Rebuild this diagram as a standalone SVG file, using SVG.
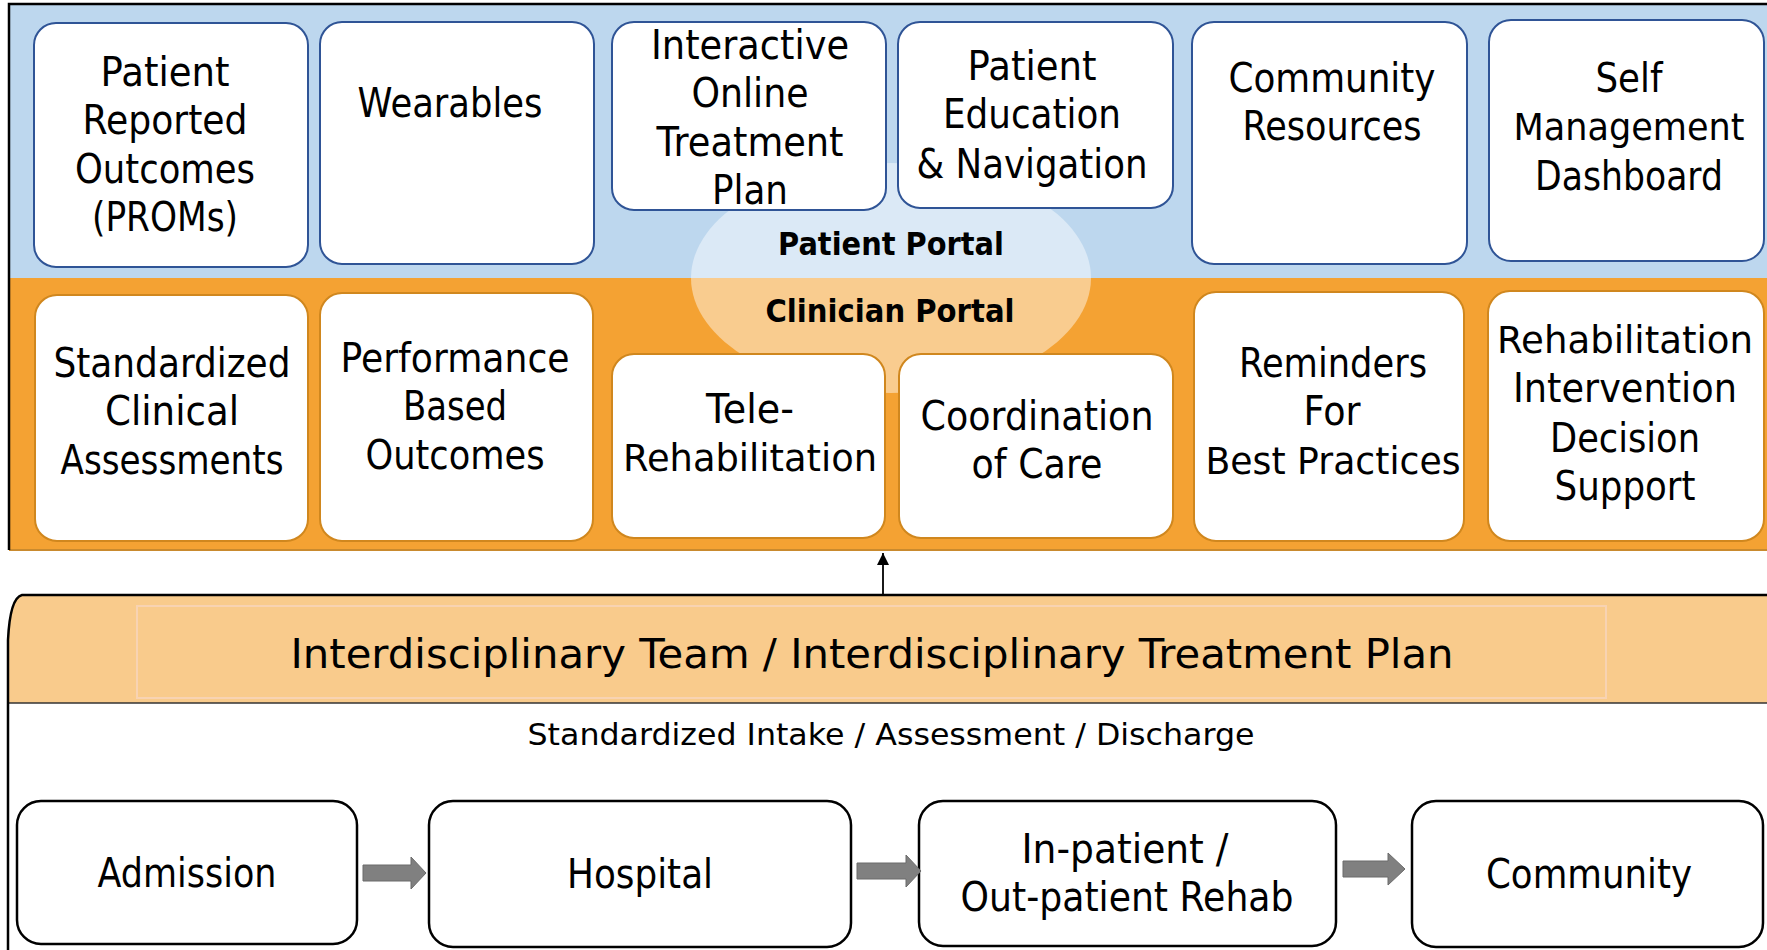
<svg xmlns="http://www.w3.org/2000/svg" width="1767" height="950" viewBox="0 0 1767 950">
<style>
.t{font-family:"DejaVu Sans","Liberation Sans",sans-serif;font-size:40px;fill:#000;text-anchor:middle}
.n{font-size:37px}
.b{font-family:"DejaVu Sans","Liberation Sans",sans-serif;font-size:32px;font-weight:bold;fill:#000;text-anchor:middle}
.pb{fill:#fff;stroke:#2F5496;stroke-width:2}
.cb{fill:#fff;stroke:#D0871E;stroke-width:2}
.fb{fill:#fff;stroke:#000;stroke-width:2.5}
.ga{fill:#808080;stroke:#6A6A6A;stroke-width:1}
</style>
<defs>
<marker id="ah" markerWidth="12" markerHeight="12" refX="10" refY="5" orient="auto" markerUnits="userSpaceOnUse" viewBox="0 0 10 10">
<path d="M0,0 L10,5 L0,10 Z" fill="#000"/>
</marker>
</defs>
<rect x="0" y="0" width="1767" height="950" fill="#fff"/>
<g id="portal-panel">
<rect x="9" y="4" width="1770" height="274" fill="#BDD7EE"/>
<rect x="9" y="278" width="1770" height="272" fill="#F4A233"/>
<line x1="9" y1="550" x2="1767" y2="550" stroke="#C98A2E" stroke-width="2"/>
<path d="M1767,4 H9 V550" fill="none" stroke="#000" stroke-width="2.5"/>
<ellipse cx="891" cy="278" rx="200" ry="115" fill="#fff" fill-opacity="0.45"/>
</g>
<g id="patient-portal-label"><text class="b" x="891" y="255" textLength="226" lengthAdjust="spacingAndGlyphs">Patient Portal</text></g>
<g id="clinician-portal-label"><text class="b" x="890" y="322" textLength="249" lengthAdjust="spacingAndGlyphs">Clinician Portal</text></g>

<g id="proms">
<rect class="pb" x="34" y="23" width="274" height="244" rx="22"/>
<text class="t" x="165" y="86" textLength="129" lengthAdjust="spacingAndGlyphs">Patient</text>
<text class="t" x="165" y="134" textLength="165" lengthAdjust="spacingAndGlyphs">Reported</text>
<text class="t" x="165" y="183" textLength="180" lengthAdjust="spacingAndGlyphs">Outcomes</text>
<text class="t" x="165" y="231" textLength="146" lengthAdjust="spacingAndGlyphs">(PROMs)</text>
</g>
<g id="wearables">
<rect class="pb" x="320" y="22" width="274" height="242" rx="22"/>
<text class="t" x="450" y="117" textLength="185" lengthAdjust="spacingAndGlyphs">Wearables</text>
</g>
<g id="interactive-plan">
<rect class="pb" x="612" y="22" width="274" height="188" rx="22"/>
<text class="t" x="750" y="59" textLength="198" lengthAdjust="spacingAndGlyphs">Interactive</text>
<text class="t" x="750" y="107" textLength="117" lengthAdjust="spacingAndGlyphs">Online</text>
<text class="t" x="750" y="156" textLength="187" lengthAdjust="spacingAndGlyphs">Treatment</text>
<text class="t" x="750" y="204" textLength="76" lengthAdjust="spacingAndGlyphs">Plan</text>
</g>
<g id="patient-education">
<rect class="pb" x="898" y="22" width="275" height="186" rx="22"/>
<text class="t" x="1032" y="80" textLength="129" lengthAdjust="spacingAndGlyphs">Patient</text>
<text class="t" x="1032" y="128" textLength="178" lengthAdjust="spacingAndGlyphs">Education</text>
<text class="t" x="1032" y="178" textLength="231" lengthAdjust="spacingAndGlyphs">&amp; Navigation</text>
</g>
<g id="community-resources">
<rect class="pb" x="1192" y="22" width="275" height="242" rx="22"/>
<text class="t" x="1332" y="92" textLength="207" lengthAdjust="spacingAndGlyphs">Community</text>
<text class="t" x="1332" y="140" textLength="179" lengthAdjust="spacingAndGlyphs">Resources</text>
</g>
<g id="self-management">
<rect class="pb" x="1489" y="20" width="275" height="241" rx="22"/>
<text class="t" x="1629" y="92" textLength="67" lengthAdjust="spacingAndGlyphs">Self</text>
<text class="t n" x="1629" y="140" textLength="231" lengthAdjust="spacingAndGlyphs">Management</text>
<text class="t" x="1629" y="190" textLength="188" lengthAdjust="spacingAndGlyphs">Dashboard</text>
</g>

<g id="standardized-clinical">
<rect class="cb" x="35" y="295" width="273" height="246" rx="22"/>
<text class="t" x="172" y="377" textLength="237" lengthAdjust="spacingAndGlyphs">Standardized</text>
<text class="t" x="172" y="425" textLength="134" lengthAdjust="spacingAndGlyphs">Clinical</text>
<text class="t" x="172" y="474" textLength="223" lengthAdjust="spacingAndGlyphs">Assessments</text>
</g>
<g id="performance-outcomes">
<rect class="cb" x="320" y="293" width="273" height="248" rx="22"/>
<text class="t" x="455" y="372" textLength="229" lengthAdjust="spacingAndGlyphs">Performance</text>
<text class="t" x="455" y="420" textLength="104" lengthAdjust="spacingAndGlyphs">Based</text>
<text class="t" x="455" y="469" textLength="179" lengthAdjust="spacingAndGlyphs">Outcomes</text>
</g>
<g id="tele-rehab">
<rect class="cb" x="612" y="354" width="273" height="184" rx="22"/>
<text class="t" x="750" y="423" textLength="88" lengthAdjust="spacingAndGlyphs">Tele-</text>
<text class="t n" x="750" y="471" textLength="254" lengthAdjust="spacingAndGlyphs">Rehabilitation</text>
</g>
<g id="coordination-care">
<rect class="cb" x="899" y="354" width="274" height="184" rx="22"/>
<text class="t" x="1037" y="430" textLength="233" lengthAdjust="spacingAndGlyphs">Coordination</text>
<text class="t" x="1037" y="478" textLength="131" lengthAdjust="spacingAndGlyphs">of Care</text>
</g>
<g id="reminders">
<rect class="cb" x="1194" y="292" width="270" height="249" rx="22"/>
<text class="t" x="1333" y="377" textLength="188" lengthAdjust="spacingAndGlyphs">Reminders</text>
<text class="t" x="1332" y="425" textLength="57" lengthAdjust="spacingAndGlyphs">For</text>
<text class="t n" x="1333" y="474" textLength="255" lengthAdjust="spacingAndGlyphs">Best Practices</text>
</g>
<g id="decision-support">
<rect class="cb" x="1488" y="291" width="276" height="250" rx="22"/>
<text class="t n" x="1625" y="353" textLength="256" lengthAdjust="spacingAndGlyphs">Rehabilitation</text>
<text class="t" x="1625" y="402" textLength="224" lengthAdjust="spacingAndGlyphs">Intervention</text>
<text class="t" x="1625" y="452" textLength="150" lengthAdjust="spacingAndGlyphs">Decision</text>
<text class="t" x="1625" y="500" textLength="141" lengthAdjust="spacingAndGlyphs">Support</text>
</g>

<g id="team-panel">
<path d="M1780,595 H22 Q10,598 8,640 V703 H1780 Z" fill="#F9CB8C"/>
<rect x="137" y="606" width="1469" height="92" fill="none" stroke="#F8D3B2" stroke-width="2"/>
<line x1="8" y1="703" x2="1767" y2="703" stroke="#333" stroke-width="1.5"/>
<path d="M1780,595 H22 Q10,598 8,640 V952" fill="none" stroke="#000" stroke-width="2.5"/>
<text class="t" x="872" y="668" style="font-size:41px" textLength="1163" lengthAdjust="spacingAndGlyphs">Interdisciplinary Team / Interdisciplinary Treatment Plan</text>
<text class="t" x="891" y="745" style="font-size:30px" textLength="727" lengthAdjust="spacingAndGlyphs">Standardized Intake / Assessment / Discharge</text>
</g>

<g id="admission">
<rect class="fb" x="17" y="801" width="340" height="143" rx="24"/>
<text class="t" x="187" y="887" textLength="179" lengthAdjust="spacingAndGlyphs">Admission</text>
</g>
<g id="hospital">
<rect class="fb" x="429" y="801" width="422" height="146" rx="24"/>
<text class="t" x="640" y="888" textLength="146" lengthAdjust="spacingAndGlyphs">Hospital</text>
</g>
<g id="rehab">
<rect class="fb" x="919" y="801" width="417" height="145" rx="24"/>
<text class="t" x="1125" y="863" textLength="207" lengthAdjust="spacingAndGlyphs">In-patient /</text>
<text class="t" x="1127" y="911" textLength="333" lengthAdjust="spacingAndGlyphs">Out-patient Rehab</text>
</g>
<g id="community">
<rect class="fb" x="1412" y="801" width="351" height="146" rx="24"/>
<text class="t" x="1589" y="888" textLength="206" lengthAdjust="spacingAndGlyphs">Community</text>
</g>

<g id="connectors">
<line x1="883" y1="595" x2="883" y2="553" stroke="#000" stroke-width="1.8" marker-end="url(#ah)"/>
<polygon class="ga" points="363,865 411,865 411,857 426,873 411,889 411,881 363,881"/>
<polygon class="ga" points="857,863 906,863 906,855 921,871 906,887 906,879 857,879"/>
<polygon class="ga" points="1343,861 1388,861 1388,853 1405,869 1388,885 1388,877 1343,877"/>
</g>
</svg>
